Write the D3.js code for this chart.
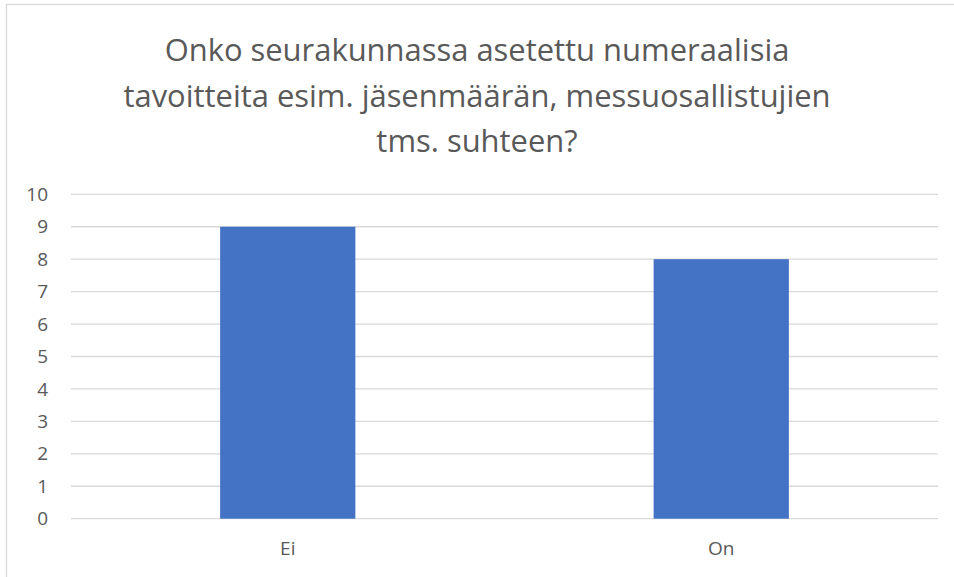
<!DOCTYPE html>
<html>
<head>
<meta charset="utf-8">
<script src="https://cdn.jsdelivr.net/npm/d3@7"></script>
<style>
  body { margin: 0; background: #fff; }
  svg { display: block; font-family: "Open Sans", "Noto Sans", sans-serif; }
</style>
</head>
<body>
<svg id="chart" width="954" height="577"></svg>
<script>
// data
const categories = ["Ei", "On"];
const values = [9, 8];
const yTicks = [0, 1, 2, 3, 4, 5, 6, 7, 8, 9, 10];
const titleLines = [
  "Onko seurakunnassa asetettu numeraalisia",
  "tavoitteita esim. jäsenmäärän, messuosallistujien",
  "tms. suhteen?"
];

const width = 954, height = 577;
const plot = { left: 71, right: 938, top: 194.3, bottom: 518.7 };

const svg = d3.select("#chart");

// chart border (right/bottom run off the picture)
svg.append("rect")
  .attr("x", 6.5).attr("y", 4.5)
  .attr("width", 960).attr("height", 600)
  .attr("fill", "#fff")
  .attr("stroke", "#d9d9d9")
  .attr("stroke-width", 1.3);

// scales
const x = d3.scaleBand().domain(categories).range([plot.left, plot.right]).padding(0);
const y = d3.scaleLinear().domain([0, 10]).range([plot.bottom, plot.top]);
const barW = x.bandwidth() * 0.312;

// gridlines
svg.append("g")
  .selectAll("line")
  .data(yTicks)
  .join("line")
  .attr("x1", plot.left).attr("x2", plot.right)
  .attr("y1", d => y(d)).attr("y2", d => y(d))
  .attr("stroke", "#d9d9d9")
  .attr("stroke-width", 1.3);

// y axis labels
const yAxis = d3.axisLeft(y).tickValues(yTicks).tickSize(0).tickPadding(0);
svg.append("g")
  .attr("transform", `translate(48,0)`)
  .call(yAxis)
  .call(g => g.select(".domain").remove())
  .selectAll("text")
  .attr("fill", "#595959")
  .attr("font-size", 19)
  .attr("font-family", "Open Sans, sans-serif");

// bars
svg.append("g")
  .selectAll("rect")
  .data(values)
  .join("rect")
  .attr("x", (d, i) => x(categories[i]) + x.bandwidth() / 2 - barW / 2)
  .attr("y", d => y(d))
  .attr("width", barW)
  .attr("height", d => y(0) - y(d))
  .attr("fill", "#4472c4");

// x axis labels
const xAxis = d3.axisBottom(x).tickSize(0).tickPadding(0);
svg.append("g")
  .attr("transform", `translate(0,541)`)
  .call(xAxis)
  .call(g => g.select(".domain").remove())
  .selectAll("text")
  .attr("fill", "#595959")
  .attr("font-size", 19)
  .attr("font-family", "Open Sans, sans-serif");

// title
const title = svg.append("g").attr("fill", "#595959");
const tl = title.selectAll("text")
  .data(titleLines)
  .join("text")
  .attr("x", 477)
  .attr("y", (d, i) => 61 + i * 45.5)
  .attr("text-anchor", "middle")
  .attr("font-size", 28)
  .text(d => d);

// fit title size to the reference line width
const w0 = tl.node().getComputedTextLength();
const fs = 28 * 625 / w0;
tl.attr("font-size", fs);
</script>
</body>
</html>
